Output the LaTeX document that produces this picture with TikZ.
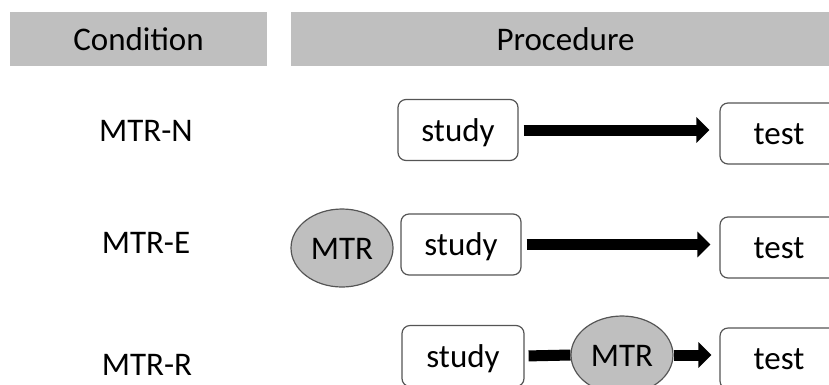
\documentclass[tikz,border=0pt]{standalone}
\usepackage{fontspec}
\setmainfont{Carlito}
\usepackage{tikz}
\usetikzlibrary{shapes.geometric,arrows.meta}
\definecolor{bargray}{RGB}{191,191,191}
\definecolor{edgegray}{RGB}{85,85,85}
\tikzset{
	head/.style 2 args={fill=bargray,minimum width=#1,minimum height=54pt,name=#2},
	box/.style 2 args={draw=edgegray,line width=1.2pt,rounded corners=8pt,fill=white,minimum width=#1,minimum height=61pt,name=#2},
	oval/.style={ellipse,draw=edgegray,line width=1.2pt,fill=bargray,minimum width=102pt,minimum height=78pt,inner sep=0pt,name=#1},
	cond/.style={name=#1},
	flow/.style={line width=11pt,-{Triangle[width=25pt,length=13pt]}}
}

\begin{document}
\begin{tikzpicture}[x=1pt,y=-1pt,every node/.append style={font=\fontsize{33pt}{40pt}\selectfont,text height=22pt,text depth=0pt}]
						\useasboundingbox (0,0) rectangle (829,384);
						\clip (0,0) rectangle (829,384);

						\node [head={257pt}{condhead}] at (138.5,39) {Condition};
						\node [head={549pt}{prochead}] at (565.5,39) {Procedure};

						\node [cond=mtrn] at (146,130) {MTR-N};
						\node [cond=mtre] at (146,242) {MTR-E};
						\node [cond=mtrr] at (147,364) {MTR-R};

						\node [box={120pt}{study1}] at (458,130) {study};
						\node [box={118pt}{test1}] at (779,133.5) {test};

						\node [oval=mtr2] at (342,248) {MTR};
						\node [box={120pt}{study2}] at (461,244.5) {study};
						\node [box={118pt}{test2}] at (779,247.5) {test};

						\node [box={122pt}{study3}] at (463,356) {study};
						\node [oval=mtr3] at (622,355) {MTR};
						\node [box={118pt}{test3}] at (779,358.5) {test};

						\draw [flow,shorten <=5pt,shorten >=10pt] (study1.east) -- (study1.east -| test1.west);
						\draw [flow,shorten <=5pt,shorten >=9pt] (study2.east) -- (study2.east -| test2.west);
						\draw [line width=11pt,shorten <=4pt] (study3.east) -- (mtr3.west);
						\draw [flow,shorten >=8pt] (mtr3.east) -- (mtr3.east -| test3.west);
					\end{tikzpicture}
\end{document}
